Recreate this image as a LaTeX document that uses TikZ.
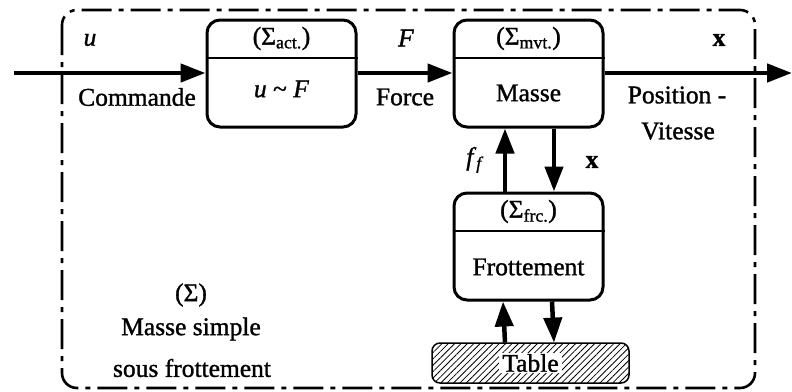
\documentclass[tikz,border=0pt]{standalone}
\usepackage{fontspec}
\setmainfont[FakeBold=1.2]{Liberation Serif}
\usetikzlibrary{arrows.meta,patterns.meta}
\begin{document}
\begin{tikzpicture}[x=1pt,y=-1pt,
  every node/.style={font=\fontsize{25.5}{27}\selectfont},
  sysbox/.style={draw, line width=3pt, rounded corners=13pt,
    minimum width=149pt, minimum height=107pt, inner sep=0pt},
  sig/.style={line width=4.5pt, -{Triangle[length=25pt,width=18pt]}},
  outer/.style={line width=2.6pt, rounded corners=15pt,
    dash pattern=on 30pt off 7pt on 5pt off 7pt},
  lbl/.style={inner sep=1pt, align=center}]
\useasboundingbox (0,0) rectangle (792,391);

% system boundary
\draw[outer] (62,10) rectangle (755,388);

% subsystem blocks
\node[sysbox] (act) at (281.5,73.5) {};
\node[sysbox] (mvt) at (528.5,73.5) {};
\node[sysbox] (frc) at (528.5,246.5) {};
\foreach \b in {act,mvt,frc}
  \draw[line width=2pt] ([yshift=-39pt]\b.north west) -- ([yshift=-39pt]\b.north east);

\node[lbl] at ([yshift=-20pt]act.north) {(Σ\textsubscript{act.})};
\node[lbl] at ([yshift=-20pt]mvt.north) {(Σ\textsubscript{mvt.})};
\node[lbl] at ([yshift=-20pt]frc.north) {(Σ\textsubscript{frc.})};
\node[lbl] at (281.5,89) {\textit{u} \textasciitilde\ \textit{F}};
\node[lbl] at (528.5,93) {Masse};
\node[lbl] at (528.5,267) {Frottement};

% table support
\node[draw, line width=1.5pt, rounded corners=8pt, minimum width=197pt,
  minimum height=40pt, inner sep=0pt,
  pattern={Lines[angle=45,distance=4.5pt,line width=0.8pt]}] (table) at (530.5,363) {};
\node[fill=white, inner xsep=3pt, inner ysep=1pt] at (table.center) {Table};

% signals
\coordinate (in) at (14,73);
\coordinate (out) at (792,73);
\draw[sig] (in) -- (act.west |- in);
\draw[sig] (act.east |- in) -- (mvt.west |- in);
\draw[sig] (mvt.east |- in) -- (out);
\draw[sig] ([xshift=-23.5pt]frc.north) -- ([xshift=-23.5pt]mvt.south);
\draw[sig] ([xshift=25.5pt]mvt.south) -- ([xshift=25.5pt]frc.north);
\draw[sig] ([xshift=-25.5pt]table.north) -- ([xshift=-25.5pt]frc.south);
\draw[sig] ([xshift=23.5pt]frc.south) -- ([xshift=23.5pt]table.north);

% signal labels
\node[lbl] at (90,40) {\textit{u}};
\node[lbl] at (137,97) {Commande};
\node[lbl] at (406,38) {\textit{F}};
\node[lbl] at (405,97) {Force};
\node[lbl] at (719,40) {\textbf{x}};
\node[lbl] at (677,95) {Position -};
\node[lbl] at (678,131) {Vitesse};
\node[lbl] at (475,160) {\textit{f}\textsubscript{\textit{f}}};
\node[lbl] at (592,162) {\textbf{x}};

% system name
\node[lbl] at (191,295) {(Σ)};
\node[lbl] at (191,329) {Masse simple};
\node[lbl] at (192,368) {sous frottement};
\end{tikzpicture}
\end{document}
